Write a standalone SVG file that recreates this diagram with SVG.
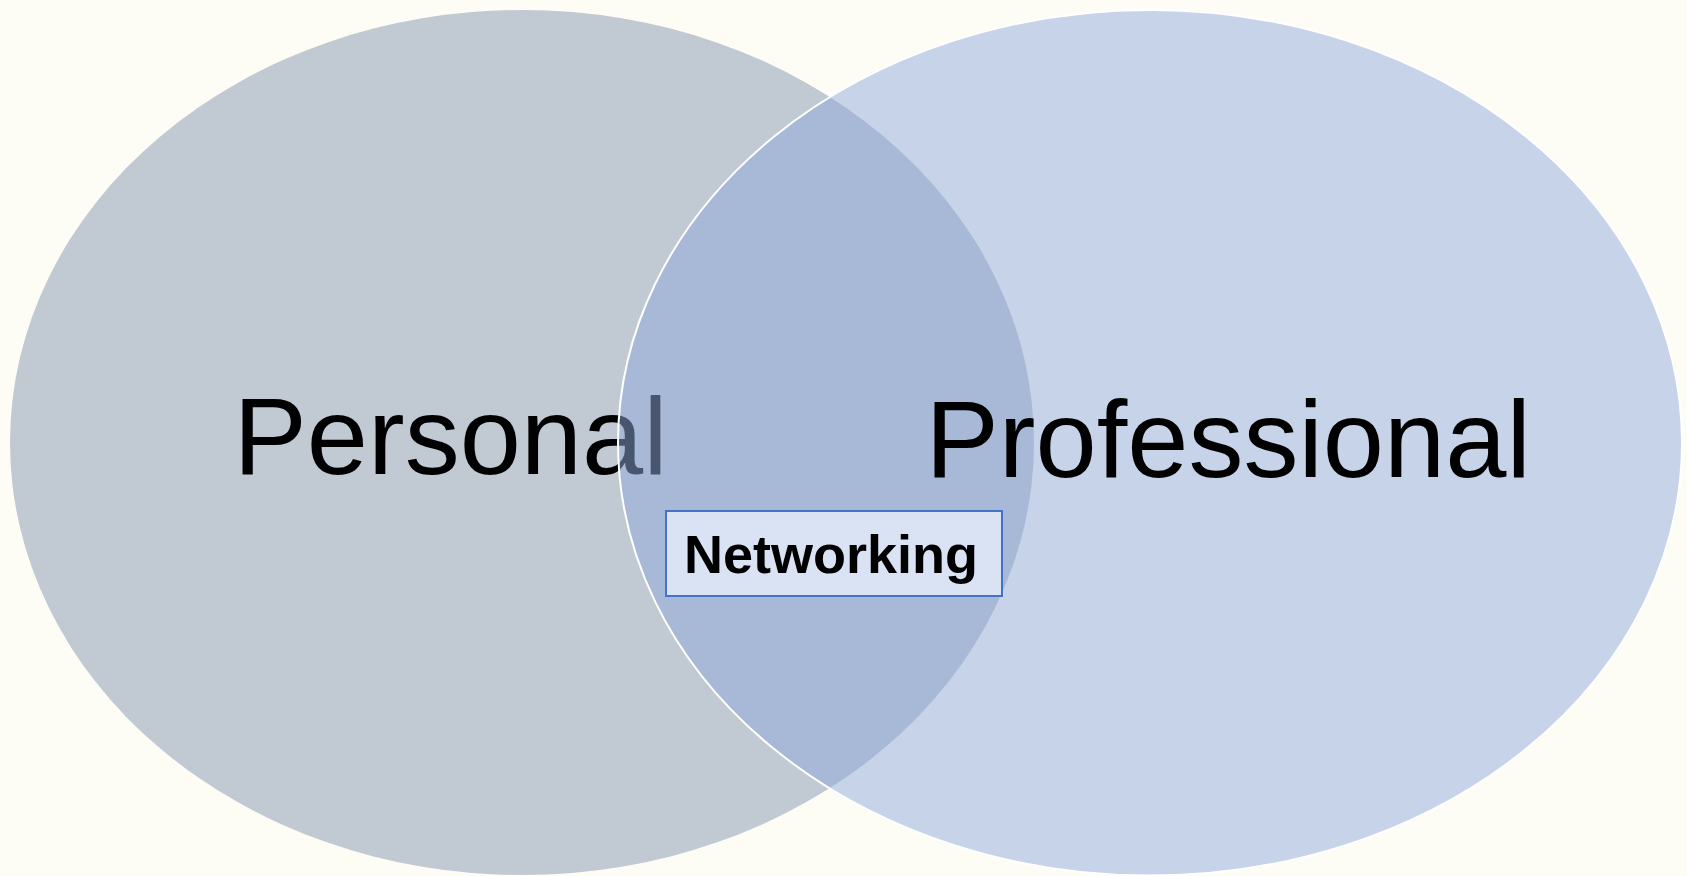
<svg xmlns="http://www.w3.org/2000/svg" width="1687" height="876" viewBox="0 0 1687 876">
  <style>
    .big { font-family: "Liberation Sans", Arial, sans-serif; font-size: 110px; fill: #000000; }
    .lbl { font-family: "Liberation Sans", Arial, sans-serif; font-size: 54px; font-weight: bold; fill: #000000; }
  </style>
  <rect x="0" y="0" width="1687" height="876" fill="#FEFDF5"/>
  <g id="personal">
    <ellipse cx="522" cy="442.5" rx="512" ry="432.5" fill="#C1C9D3"/>
    <text class="big" x="233.5" y="474">Personal</text>
  </g>
  <g id="professional">
    <ellipse cx="1150" cy="442.8" rx="532" ry="432.8" fill="#8FAADC" fill-opacity="0.5" stroke="#FFFFFF" stroke-width="2"/>
    <text class="big" x="925.5" y="477">Professional</text>
  </g>
  <g id="networking">
    <rect x="666" y="511" width="336" height="85" fill="#DAE3F3" stroke="#4472C4" stroke-width="2"/>
    <text class="lbl" x="684" y="572.5">Networking</text>
  </g>
  <g id="connectors"/>
</svg>
